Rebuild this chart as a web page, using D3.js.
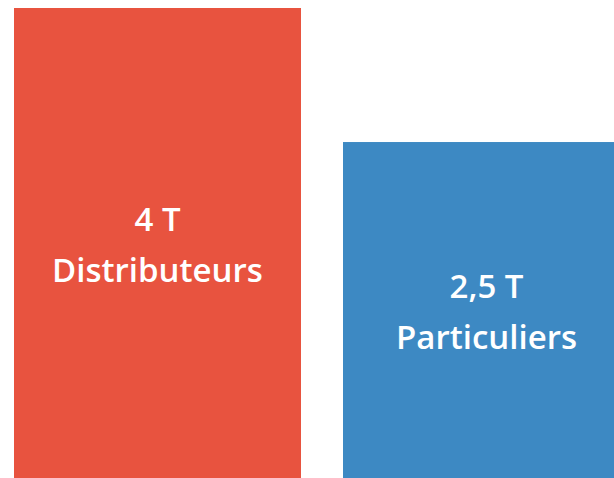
<!DOCTYPE html>
<html>
<head>
<meta charset="utf-8">
<script src="https://cdn.jsdelivr.net/npm/d3@7"></script>
<style>
  html, body { margin: 0; padding: 0; background: #fff; overflow: hidden; }
  text { font-family: "Open Sans", Lato, sans-serif; font-weight: 600; }
</style>
</head>
<body>
<div id="chart"></div>
<script>
// Data
const categories = ["Distributeurs", "Particuliers"];
const values = [4, 2.5];
const valueLabels = ["4 T", "2,5 T"];
const colors = ["#E8533F", "#3D89C3"];

const width = 614;
const height = 478;

const svg = d3.select("#chart")
    .append("svg")
    .attr("width", width)
    .attr("height", height);

// bars run off the right and bottom edges of the view
const xScale = d3.scaleBand()
    .domain(categories)
    .range([14, 630])
    .paddingInner(0.1277);

const yScale = d3.scaleLinear()
    .domain([-1.26, 4])
    .range([height, 8]);

const bars = svg.selectAll(".bar")
    .data(categories)
    .enter()
    .append("g")
    .attr("class", "bar");

bars.append("rect")
    .attr("x", d => xScale(d))
    .attr("y", (d, i) => yScale(values[i]))
    .attr("width", xScale.bandwidth())
    .attr("height", (d, i) => height - yScale(values[i]))
    .attr("fill", (d, i) => colors[i]);

// Labels centred in each bar
bars.append("text")
    .attr("x", d => xScale(d) + xScale.bandwidth() / 2)
    .attr("y", (d, i) => (yScale(values[i]) + height) / 2 - 12)
    .attr("text-anchor", "middle")
    .attr("fill", "#fff")
    .attr("font-size", 33)
    .text((d, i) => valueLabels[i]);

bars.append("text")
    .attr("x", d => xScale(d) + xScale.bandwidth() / 2)
    .attr("y", (d, i) => (yScale(values[i]) + height) / 2 + 39)
    .attr("text-anchor", "middle")
    .attr("fill", "#fff")
    .attr("font-size", 33)
    .text(d => d);
</script>
</body>
</html>
